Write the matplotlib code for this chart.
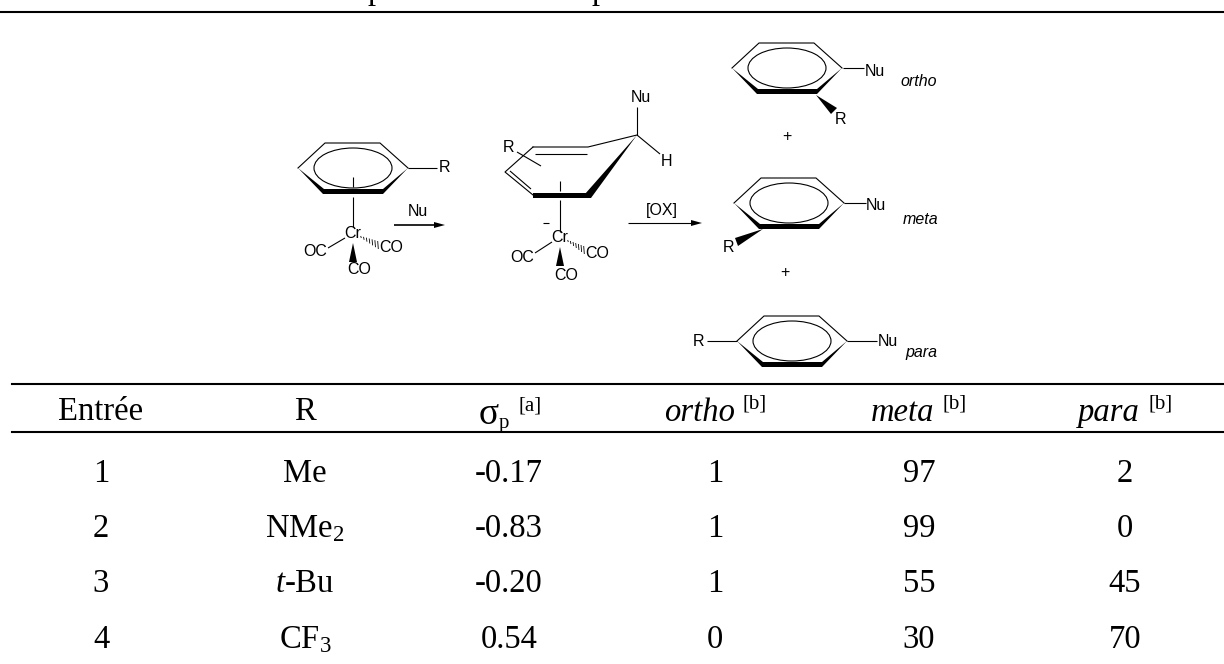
import matplotlib
matplotlib.use("Agg")
import matplotlib.pyplot as plt
from matplotlib.patches import Ellipse, Polygon

plt.rcParams['font.family'] = ['Liberation Serif', 'DejaVu Serif']
plt.rcParams['mathtext.fontset'] = 'custom'
plt.rcParams['mathtext.rm'] = 'Liberation Serif'
plt.rcParams['mathtext.it'] = 'Liberation Serif:italic'

# table values
entries = ['1', '2', '3', '4']
substituents = ['Me', 'NMe$_{2}$', r'$\mathit{t}$-Bu', 'CF$_{3}$']
sigma_p = ['-0.17', '-0.83', '-0.20', '0.54']
ortho = ['1', '1', '1', '0']
meta = ['97', '99', '55', '30']
para = ['2', '0', '45', '70']

col_x = [101, 305, 509, 715, 919, 1125]
row_y = [471, 526, 581, 637]

fig = plt.figure(figsize=(12.24, 6.64), dpi=100)
ax = fig.add_axes([0, 0, 1, 1])
ax.set_xlim(0, 1224)
ax.set_ylim(664, 0)
ax.axis('off')

TXT = 23.5
CHEM = 11.5
LW = 0.8


def bond(x1, y1, x2, y2, lw=LW):
    ax.plot([x1, x2], [y1, y2], color='black', lw=lw, solid_capstyle='butt')


def chem(x, y, s, **kw):
    ax.text(x, y, s, ha='center', va='center', fontsize=CHEM, family='Liberation Sans', **kw)


def fill(pts):
    ax.add_patch(Polygon(pts, closed=True, fc='black', ec='none'))


def ring(cx, cy):
    # arene seen in perspective, the front edges are bold
    left, right = (cx - 55, cy), (cx + 55, cy)
    ax.plot([left[0], cx - 28, cx + 27, right[0]], [cy, cy - 25, cy - 25, cy],
            color='black', lw=LW)
    fill([left, (cx - 30, cy + 26), (cx + 30, cy + 26), right,
          (cx + 30, cy + 21), (cx - 29, cy + 21)])
    ax.add_patch(Ellipse((cx, cy), 78, 40, fc='none', ec='black', lw=LW))


def hashed(x1, y1, x2, y2, n=7):
    for i in range(n):
        t = i / (n - 1)
        x = x1 + (x2 - x1) * t
        y = y1 + (y2 - y1) * t
        h = 1 + 3 * t
        bond(x - 0.3, y - h, x + 0.3, y + h, lw=0.6)


def cr_tripod(x, y, ox, oy, cx, cy, bx, by):
    chem(x, y, 'Cr')
    chem(ox, oy, 'OC')
    chem(cx, cy, 'CO')
    chem(bx, by, 'CO')
    bond(x - 8, y + 4, ox + 13, oy - 4)
    hashed(x + 8, y + 3, cx - 13, cy - 3)
    fill([(x, y + 9), (x - 4, y + 28), (x + 4, y + 28)])


def arrow(x1, x2, y, lw=LW):
    bond(x1, y, x2 - 8, y, lw=lw)
    fill([(x2, y), (x2 - 11, y - 3), (x2 - 11, y + 3)])


# rules
ax.plot([0, 1224], [11.5, 11.5], color='black', lw=1.5)
ax.plot([12, 1224], [384, 384], color='black', lw=1.5)
ax.plot([12, 1224], [431.5, 431.5], color='black', lw=1.5)

# bottom of the caption line, cut off by the page edge
ax.text(376, -1, 'p', ha='center', va='baseline', fontsize=TXT)
ax.text(600, -1, 'p', ha='center', va='baseline', fontsize=TXT)

# starting complex
ring(353, 168)
bond(408, 168, 437, 168)
chem(444, 168, 'R')
bond(353, 177, 353, 187)
bond(353, 197, 353, 227)
cr_tripod(353, 234, 315, 252, 391, 248, 359, 270)
arrow(394, 445, 225, lw=1.2)
chem(418, 212, 'Nu')

# cyclohexadienyl intermediate
ax.plot([533, 505, 533], [147, 172, 195], color='black', lw=LW)
ax.plot([533, 588, 637], [147, 147, 135], color='black', lw=LW)
bond(535, 154, 587, 154)
bond(510, 171, 531, 189)
fill([(533, 193), (533, 198), (591, 198), (591, 193)])
fill([(637, 135), (585, 194), (591, 198)])
bond(517, 152, 541, 166)
chem(508, 148, 'R')
bond(637, 107, 637, 135)
chem(641, 98, 'Nu')
bond(637, 135, 660, 154)
chem(666, 161, 'H')
bond(560, 181, 560, 191)
bond(560, 200, 560, 232)
bond(543, 223, 549, 223)
cr_tripod(560, 238, 522, 257, 597, 253, 566, 275)
arrow(628, 702, 223)
chem(662, 210, '[OX]')

# products
ring(787, 68)
bond(843, 68, 864, 68)
chem(875, 71, 'Nu')
chem(919, 82, 'ortho', style='italic')
fill([(816, 95), (837, 108), (831, 114)])
chem(840, 120, 'R')
chem(787, 136, '+')

ring(789, 203)
bond(844, 203, 866, 203)
chem(876, 206, 'Nu')
chem(921, 219, 'meta', style='italic')
fill([(763, 229), (735, 238), (738, 246)])
chem(728, 247, 'R')
chem(785, 272, '+')

ring(792, 341)
bond(707, 341, 737, 341)
chem(699, 342, 'R')
bond(847, 341, 877, 341)
chem(888, 342, 'Nu')
chem(921, 352, 'para', style='italic')

# table header
ax.text(col_x[0], 412, 'Entrée', ha='center', va='center', fontsize=TXT)
ax.text(col_x[1], 412, 'R', ha='center', va='center', fontsize=TXT)
ax.text(479, 424, 'σ', ha='left', va='baseline', fontsize=27)
ax.text(499, 428, 'p', ha='left', va='baseline', fontsize=15)
ax.text(518, 410, '[a]', ha='left', va='baseline', fontsize=15)
ax.text(664, 421, 'ortho', ha='left', va='baseline', fontsize=TXT, style='italic')
ax.text(742, 408, '[b]', ha='left', va='baseline', fontsize=15)
ax.text(871, 421, 'meta', ha='left', va='baseline', fontsize=TXT, style='italic')
ax.text(943, 408, '[b]', ha='left', va='baseline', fontsize=15)
ax.text(1078, 421, 'para', ha='left', va='baseline', fontsize=TXT, style='italic')
ax.text(1148, 408, '[b]', ha='left', va='baseline', fontsize=15)

# table rows
columns = [entries, substituents, sigma_p, ortho, meta, para]
for x, values in zip(col_x, columns):
    for y, val in zip(row_y, values):
        ax.text(x, y + 11, val, ha='center', va='baseline', fontsize=TXT)

fig.savefig('out.png', dpi=100)
